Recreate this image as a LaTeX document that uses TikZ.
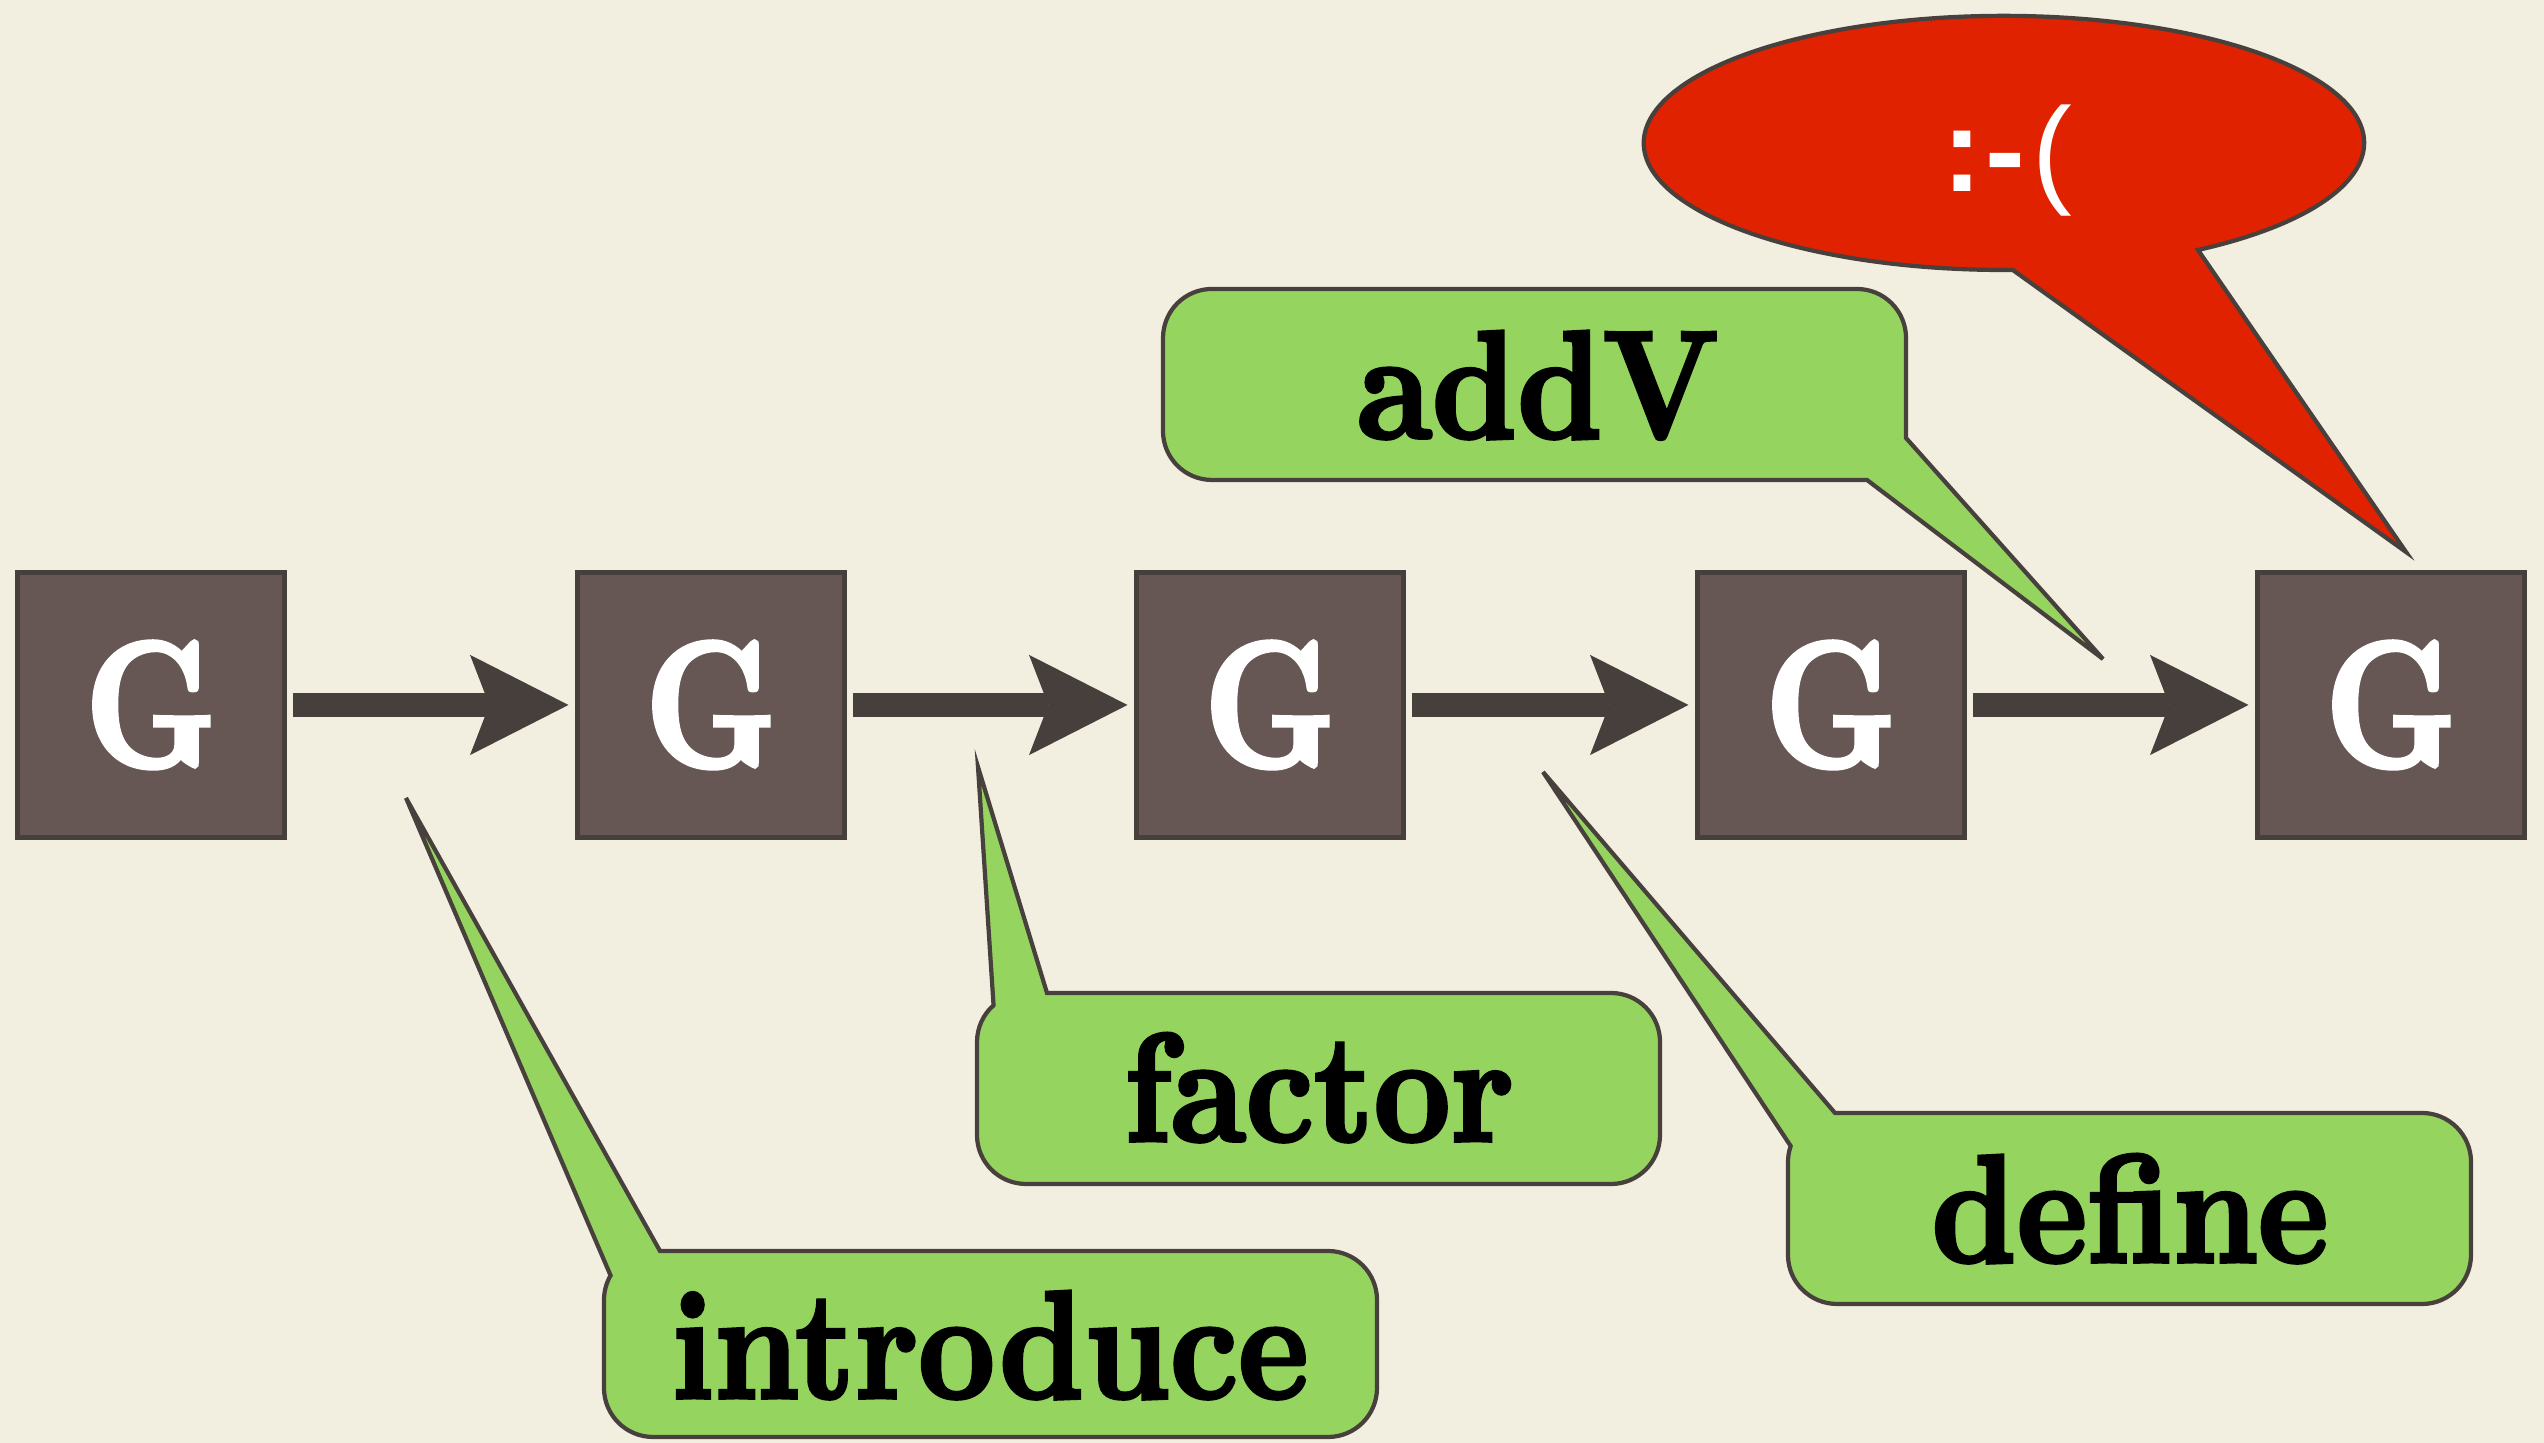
\documentclass[tikz,border=0pt]{standalone}
\usepackage{fontspec}
\newfontfamily\smileyfont{Liberation Sans}
\newfontfamily\lmbf{lmroman10-bold.otf}[FakeBold=2.5]
\usetikzlibrary{arrows.meta}
\definecolor{bg}{HTML}{F3EFE0}
\definecolor{boxfill}{HTML}{665654}
\definecolor{boxline}{HTML}{46403D}
\definecolor{arrowc}{HTML}{463F3B}
\definecolor{calgreen}{HTML}{96D460}
\definecolor{calred}{HTML}{E02200}
\definecolor{calline}{HTML}{47403D}
\newcommand{\tallbox}[1]{\scalebox{1}[1.15]{#1}}
\begin{document}
\begin{tikzpicture}[x=0.01cm,y=0.01cm,
  gbox/.style={draw=boxline, fill=boxfill, line width=1.4pt, minimum width=2.66cm, minimum height=2.65cm, inner sep=0pt, text=white, font=\fontsize{51}{51}\selectfont\lmbf},
  flow/.style={draw=arrowc, line width=6.9pt, -{Stealth[length=28pt,width=28.5pt,inset=5.5pt,line width=0pt]}, shorten <=0.06cm, shorten >=0.07cm},
  callout/.style={draw=calline, fill=calgreen, line width=1.2pt, line join=miter},
  redcallout/.style={draw=calline, fill=calred, line width=1.2pt, line join=miter},
  lbl/.style={anchor=base, inner sep=0pt, font=\fontsize{38}{38}\selectfont\lmbf},
  smiley/.style={anchor=base, inner sep=0pt, text=white, font=\fontsize{34}{34}\selectfont\smileyfont}
]
\useasboundingbox (0,0) rectangle (2544,1443);
\fill[bg] (0,0) rectangle (2544,1443);

% G boxes
\node[gbox] (g1) at (151,738) {\scalebox{0.82}[1]{G}};
\node[gbox] (g2) at (711,738) {\scalebox{0.82}[1]{G}};
\node[gbox] (g3) at (1270,738) {\scalebox{0.82}[1]{G}};
\node[gbox] (g4) at (1831,738) {\scalebox{0.82}[1]{G}};
\node[gbox] (g5) at (2391,738) {\scalebox{0.82}[1]{G}};

% arrows
\draw[flow] (g1) -- (g2);
\draw[flow] (g2) -- (g3);
\draw[flow] (g3) -- (g4);
\draw[flow] (g4) -- (g5);

% tips of callouts
\coordinate (tipI) at (406,645);
\coordinate (tipF) at (978,676);
\coordinate (tipD) at (1543,671);
\coordinate (tipA) at (2103,784);
\coordinate (tipR) at (2406,891);

% red bubble
\draw[redcallout] (tipR) -- (2198,1193) arc[start angle=-57.4,end angle=271.4,x radius=3.6cm,y radius=1.27cm] -- cycle;
\node[smiley] (sad) at (2007,1251) {{\bfseries:\kern1pt-}\kern2pt(};

% addV callout
\draw[callout] (tipA) -- (1867,963) -- (1212,963) arc[start angle=270,end angle=180,radius=0.49cm] -- (1163,1105) arc[start angle=180,end angle=90,radius=0.49cm] -- (1857,1154) arc[start angle=90,end angle=0,radius=0.49cm] -- (1906,1005) -- cycle;
\node[lbl] (addv) at (1538,1005) {\tallbox{addV}};

% define callout
\draw[callout] (tipD) -- (1835,330) -- (2422,330) arc[start angle=90,end angle=0,radius=0.49cm] -- (2471,188) arc[start angle=0,end angle=-90,radius=0.49cm] -- (1837,139) arc[start angle=270,end angle=180,radius=0.49cm] -- (1788,281) arc[start angle=180,end angle=161,radius=0.49cm] -- cycle;
\node[lbl] (define) at (2130,181) {\tallbox{define}};

% factor callout
\draw[callout] (tipF) -- (1047,450) -- (1611,450) arc[start angle=90,end angle=0,radius=0.49cm] -- (1660,308) arc[start angle=0,end angle=-90,radius=0.49cm] -- (1026,259) arc[start angle=270,end angle=180,radius=0.49cm] -- (977,401) arc[start angle=180,end angle=131.5,radius=0.49cm] -- cycle;
\node[lbl] (factor) at (1319,302) {\tallbox{factor}};

% introduce callout
\draw[callout] (tipI) -- (660,192) -- (1328,192) arc[start angle=90,end angle=0,radius=0.49cm] -- (1377,55) arc[start angle=0,end angle=-90,radius=0.49cm] -- (653,6) arc[start angle=270,end angle=180,radius=0.49cm] -- (604,143) arc[start angle=180,end angle=150,radius=0.49cm] -- cycle;
\node[lbl] (introduce) at (990,45) {\tallbox{introduce}};
\end{tikzpicture}
\end{document}
